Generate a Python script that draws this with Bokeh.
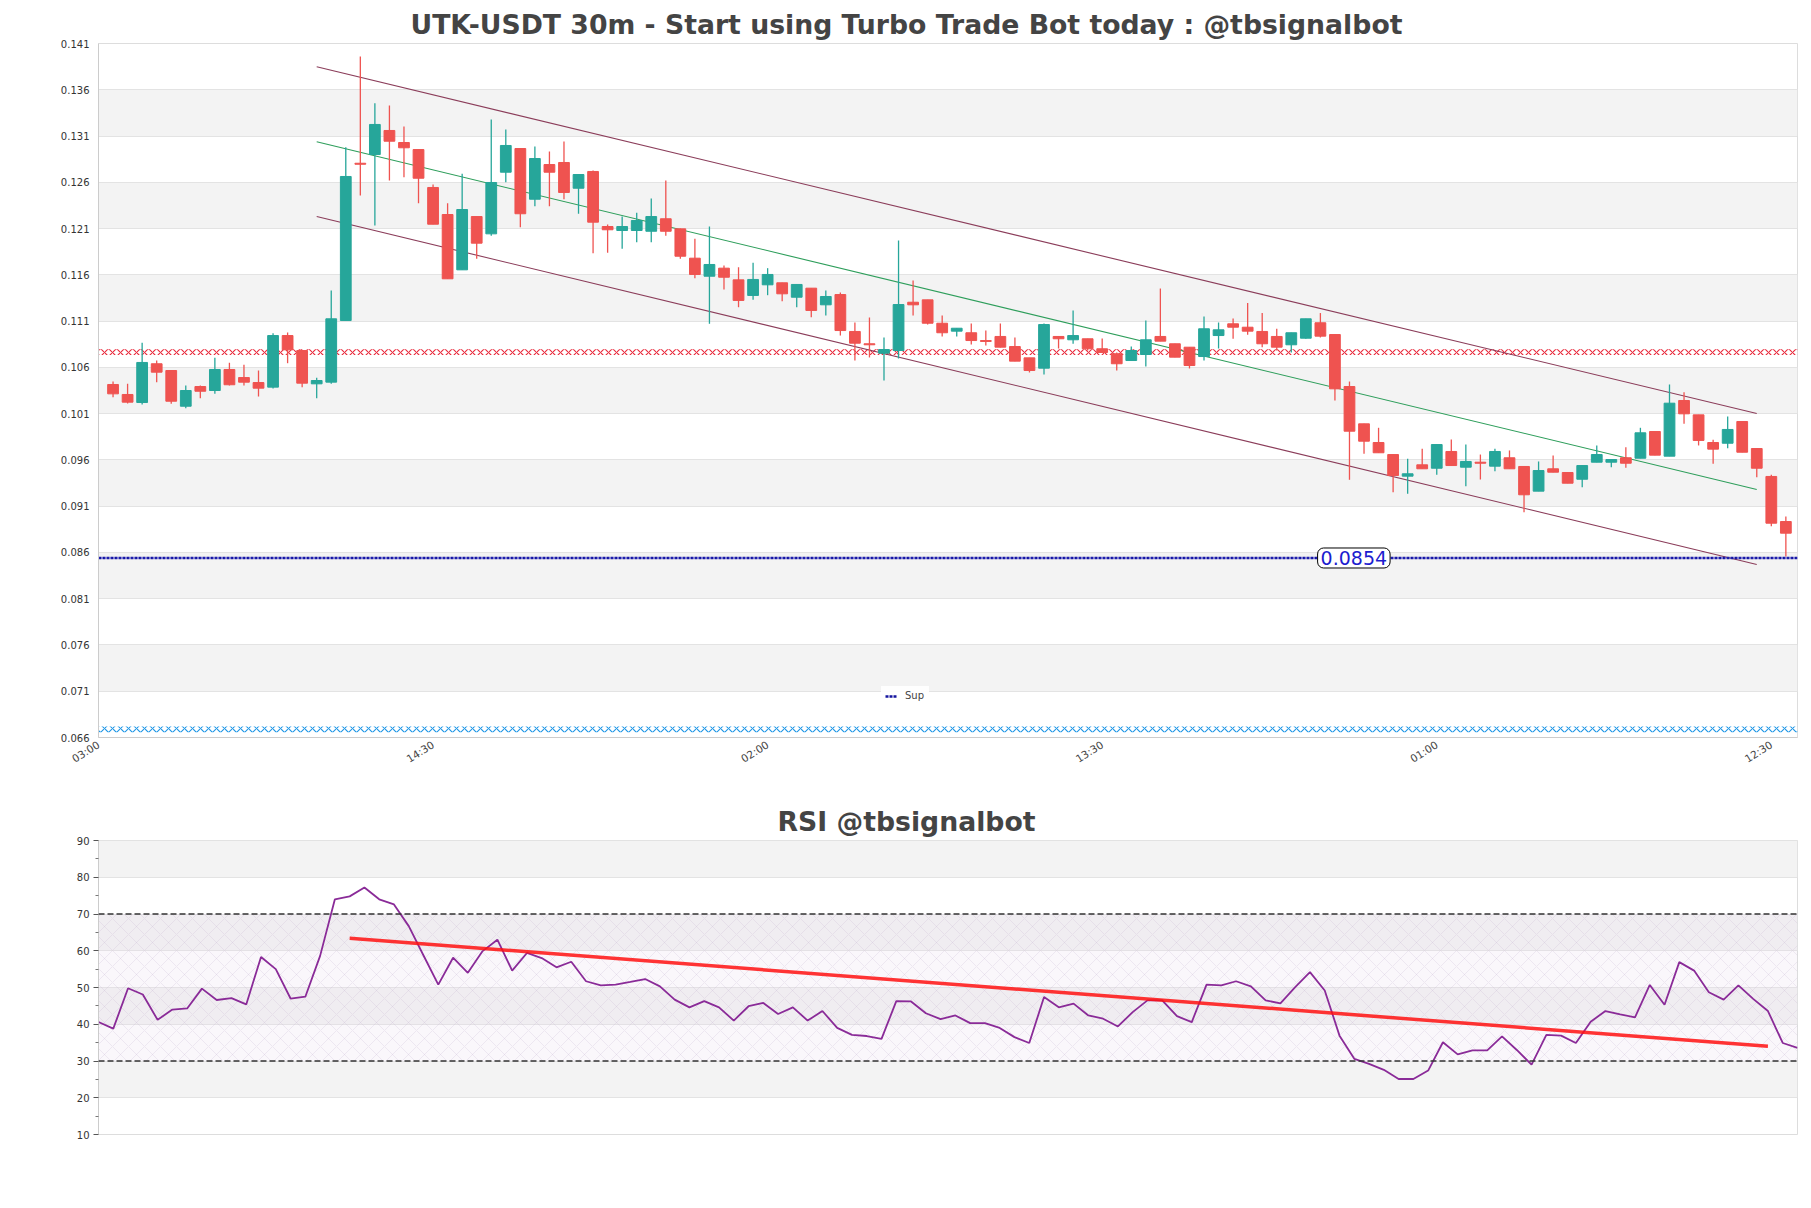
from bokeh.plotting import figure
from bokeh.models import (Range1d, FixedTicker, NumeralTickFormatter, Label, Legend,
                          LegendItem, ColumnDataSource, Span)
from bokeh.layouts import column
from bokeh.embed import file_html
from bokeh.resources import INLINE

# ---------------- data ----------------
opens = [0.10415, 0.10307, 0.10220, 0.10639, 0.10566, 0.10180, 0.10393, 0.10350, 0.10577, 0.10490,
         0.10436, 0.10386, 0.10944, 0.10782, 0.10422, 0.10440, 0.11106, 0.12806, 0.12900, 0.13160,
         0.13030, 0.12954, 0.12544, 0.12252, 0.11654, 0.12230, 0.12043, 0.12709, 0.12965, 0.12417,
         0.12792, 0.12814, 0.12536, 0.12717, 0.12122, 0.12079, 0.12079, 0.12071, 0.12206, 0.12097,
         0.11780, 0.11585, 0.11672, 0.11546, 0.11377, 0.11492, 0.11514, 0.11358, 0.11456, 0.11276,
         0.11387, 0.10988, 0.10855, 0.10753, 0.10782, 0.11304, 0.11330, 0.11077, 0.10991, 0.10974,
         0.10890, 0.10934, 0.10825, 0.10703, 0.10591, 0.10934, 0.10898, 0.10909, 0.10801, 0.10747,
         0.10674, 0.10739, 0.10934, 0.10855, 0.10818, 0.10717, 0.10944, 0.11071, 0.11034, 0.10988,
         0.10934, 0.10844, 0.10915, 0.11082, 0.10955, 0.10393, 0.09990, 0.09788, 0.09658, 0.09424,
         0.09547, 0.09510, 0.09691, 0.09521, 0.09575, 0.09532, 0.09623, 0.09529, 0.09262, 0.09504,
         0.09464, 0.09391, 0.09575, 0.09575, 0.09623, 0.09618, 0.09907, 0.09640, 0.10242, 0.10087,
         0.09788, 0.09780, 0.10015, 0.09723, 0.09421, 0.08934]
highs = [0.10447, 0.10422, 0.10866, 0.10674, 0.10570, 0.10404, 0.10404, 0.10703, 0.10649, 0.10628,
         0.10566, 0.10969, 0.10977, 0.10782, 0.10487, 0.11431, 0.12979, 0.13960, 0.13455, 0.13430,
         0.13203, 0.12954, 0.12576, 0.12374, 0.12692, 0.12230, 0.13279, 0.13171, 0.12965, 0.12987,
         0.12933, 0.13041, 0.12684, 0.12728, 0.12144, 0.12230, 0.12270, 0.12425, 0.12619, 0.12100,
         0.11989, 0.12122, 0.11701, 0.11682, 0.11730, 0.11672, 0.11514, 0.11496, 0.11456, 0.11431,
         0.11409, 0.11085, 0.11139, 0.10923, 0.11971, 0.11539, 0.11330, 0.11161, 0.11023, 0.11074,
         0.10998, 0.11074, 0.10923, 0.10703, 0.11074, 0.10934, 0.11215, 0.10909, 0.10912, 0.10761,
         0.10825, 0.11106, 0.11452, 0.10855, 0.10818, 0.11150, 0.11085, 0.11128, 0.11295, 0.11187,
         0.11017, 0.10974, 0.11125, 0.11187, 0.10955, 0.10447, 0.09990, 0.09947, 0.09658, 0.09612,
         0.09720, 0.09766, 0.09820, 0.09766, 0.09658, 0.09720, 0.09702, 0.09529, 0.09583, 0.09647,
         0.09464, 0.09539, 0.09756, 0.09604, 0.09737, 0.09947, 0.09907, 0.10415, 0.10332, 0.10087,
         0.09817, 0.10069, 0.10015, 0.09723, 0.09439, 0.08988]
lows = [0.10278, 0.10209, 0.10199, 0.10440, 0.10206, 0.10159, 0.10267, 0.10314, 0.10404, 0.10404,
        0.10285, 0.10372, 0.10645, 0.10386, 0.10267, 0.10422, 0.11106, 0.12457, 0.12133, 0.12619,
        0.12655, 0.12374, 0.12147, 0.11557, 0.11654, 0.11773, 0.12022, 0.12601, 0.12115, 0.12342,
        0.12342, 0.12417, 0.12260, 0.11834, 0.11838, 0.11881, 0.11953, 0.11953, 0.12022, 0.11773,
        0.11564, 0.11071, 0.11441, 0.11250, 0.11330, 0.11380, 0.11315, 0.11250, 0.11142, 0.11161,
        0.10944, 0.10674, 0.10707, 0.10458, 0.10696, 0.11161, 0.11063, 0.10934, 0.10934, 0.10847,
        0.10836, 0.10815, 0.10667, 0.10545, 0.10523, 0.10804, 0.10855, 0.10782, 0.10761, 0.10566,
        0.10674, 0.10609, 0.10883, 0.10710, 0.10588, 0.10674, 0.10804, 0.10909, 0.10952, 0.10818,
        0.10782, 0.10761, 0.10909, 0.10923, 0.10242, 0.09385, 0.09666, 0.09677, 0.09251, 0.09234,
        0.09504, 0.09439, 0.09539, 0.09316, 0.09388, 0.09478, 0.09504, 0.09035, 0.09262, 0.09467,
        0.09348, 0.09305, 0.09575, 0.09521, 0.09514, 0.09618, 0.09651, 0.09640, 0.09990, 0.09756,
        0.09558, 0.09726, 0.09683, 0.09413, 0.08884, 0.08556]
closes = [0.10314, 0.10224, 0.10653, 0.10548, 0.10234, 0.10350, 0.10342, 0.10577, 0.10412, 0.10440,
          0.10375, 0.10944, 0.10790, 0.10429, 0.10458, 0.11125, 0.12663, 0.12795, 0.13225, 0.13044,
          0.12973, 0.12644, 0.12147, 0.11557, 0.12306, 0.11942, 0.12598, 0.12998, 0.12260, 0.12857,
          0.12709, 0.12490, 0.12684, 0.12169, 0.12087, 0.12122, 0.12187, 0.12230, 0.12071, 0.11801,
          0.11604, 0.11712, 0.11574, 0.11323, 0.11550, 0.11604, 0.11395, 0.11496, 0.11215, 0.11366,
          0.10998, 0.10861, 0.10844, 0.10793, 0.11279, 0.11276, 0.11077, 0.10974, 0.11023, 0.10890,
          0.10880, 0.10818, 0.10667, 0.10566, 0.11063, 0.10909, 0.10944, 0.10801, 0.10761, 0.10639,
          0.10782, 0.10898, 0.10883, 0.10710, 0.10620, 0.11017, 0.11006, 0.11034, 0.10991, 0.10855,
          0.10818, 0.10974, 0.11125, 0.10937, 0.10368, 0.09910, 0.09802, 0.09677, 0.09431, 0.09450,
          0.09504, 0.09766, 0.09539, 0.09583, 0.09564, 0.09691, 0.09504, 0.09223, 0.09485, 0.09467,
          0.09348, 0.09539, 0.09658, 0.09604, 0.09564, 0.09893, 0.09651, 0.10213, 0.10098, 0.09810,
          0.09716, 0.09929, 0.09683, 0.09510, 0.08916, 0.08808]

tick_positions = [-1, 22, 45, 68, 91, 114]
tick_labels = ["03:00", "14:30", "02:00", "13:30", "01:00", "12:30"]
price_ticks = [0.066, 0.071, 0.076, 0.081, 0.086, 0.091, 0.096, 0.101, 0.106,
               0.111, 0.116, 0.121, 0.126, 0.131, 0.136, 0.141]

resistance_level = 0.10764
support_level = 0.0854
low_level = 0.06687

channel_x = [14, 113]
channel_upper = [0.13848, 0.10101]
channel_mid = [0.13038, 0.09280]
channel_lower = [0.12230, 0.08470]

rsi = [40.6, 38.8, 49.8, 48.1, 41.2, 44.0, 44.3, 49.7, 46.6, 47.1, 45.4, 58.3, 55.0, 47.0, 47.5,
       58.6, 74.0, 74.8, 77.2, 74.0, 72.6, 66.7, 58.7, 50.8, 58.1, 54.0, 59.9, 63.0, 54.6, 59.4,
       58.0, 55.5, 57.0, 51.7, 50.6, 50.8, 51.5, 52.3, 50.3, 46.7, 44.6, 46.3, 44.6, 41.0, 44.9,
       45.8, 42.8, 44.6, 41.0, 43.6, 39.0, 37.1, 36.8, 36.0, 46.3, 46.2, 43.0, 41.4, 42.4, 40.3,
       40.3, 39.0, 36.5, 34.9, 47.4, 44.6, 45.6, 42.4, 41.5, 39.4, 43.3, 46.5, 46.5, 42.2, 40.6,
       50.8, 50.6, 51.7, 50.3, 46.5, 45.7, 50.1, 54.2, 49.2, 36.9, 30.6, 29.2, 27.6, 25.1, 25.1,
       27.4, 35.1, 31.8, 32.9, 32.9, 36.7, 33.0, 29.0, 37.1, 36.9, 34.9, 40.7, 43.6, 42.7, 41.9,
       50.7, 45.3, 56.9, 54.6, 48.7, 46.7, 50.6, 46.9, 43.6, 34.9, 33.6]
rsi_ticks = [10, 20, 30, 40, 50, 60, 70, 80, 90]
rsi_minor = [15, 25, 35, 45, 55, 65, 75, 85]
rsi_trend_x = [17, 113]
rsi_trend_y = [63.4, 34.0]
rsi_levels = [30, 70]

# ---------------- styles ----------------
UP, DOWN = "#26a69a", "#ef5350"
FONT = "DejaVu Sans"
X0, X1 = -1, 115.8

n = len(opens)
xs = list(range(n))
src = ColumnDataSource(dict(
    x=xs, high=highs, low=lows,
    top=[max(o, c) for o, c in zip(opens, closes)],
    bottom=[min(o, c) for o, c in zip(opens, closes)],
    color=[UP if c >= o else DOWN for o, c in zip(opens, closes)],
))

p = figure(width=1811, height=790, x_range=Range1d(X0, X1), y_range=Range1d(0.066, 0.141),
           output_backend="svg", toolbar_location=None,
           min_border_left=98, min_border_right=14, min_border_top=43, min_border_bottom=53)
p.title.text = "UTK-USDT 30m - Start using Turbo Trade Bot today : @tbsignalbot"
p.title.align = "left"
p.title.offset = 312
p.title.text_font = FONT
p.title.text_font_size = "26.7px"
p.title.text_font_style = "bold"
p.title.text_color = "#444444"
p.title.standoff = 8

p.outline_line_color = "#dddddd"
p.xgrid.visible = False
yt = FixedTicker(ticks=price_ticks)
p.yaxis.ticker = yt
p.ygrid.ticker = yt
p.ygrid.grid_line_color = "#e3e3e3"
p.ygrid.band_fill_color = "#f3f3f3"
p.ygrid.band_fill_alpha = 1.0
p.yaxis.formatter = NumeralTickFormatter(format="0.000")
p.yaxis.axis_line_color = "#cccccc"
p.yaxis.major_tick_line_color = None
p.yaxis.minor_tick_line_color = None
p.yaxis.major_tick_out = 5
p.yaxis.major_label_standoff = 4
p.yaxis.major_label_text_font = FONT
p.yaxis.major_label_text_font_size = "10px"
p.yaxis.major_label_text_color = "#333333"

p.xaxis.ticker = FixedTicker(ticks=tick_positions)
p.xaxis.major_label_overrides = {t: l for t, l in zip(tick_positions, tick_labels)}
p.xaxis.major_label_orientation = 0.56
p.xaxis.axis_line_color = "#cccccc"
p.xaxis.major_tick_line_color = None
p.xaxis.minor_tick_line_color = None
p.xaxis.major_tick_out = 2
p.xaxis.major_label_standoff = 4
p.xaxis.major_label_text_font = FONT
p.xaxis.major_label_text_font_size = "10.5px"
p.xaxis.major_label_text_color = "#444444"

# chain lines (hatched thin bands)
for lvl, col in [(resistance_level, "#e8283a"), (low_level, "#1e96e6")]:
    p.hbar(y=[lvl], height=0.00062, left=X0, right=X1, fill_alpha=0, line_color=None,
           hatch_pattern="x", hatch_color=col, hatch_scale=8, hatch_weight=1.1)

# channel lines
p.line(channel_x, channel_upper, line_color="#8b3d5a", line_width=1.1)
p.line(channel_x, channel_lower, line_color="#8b3d5a", line_width=1.1)
p.line(channel_x, channel_mid, line_color="#2e9e5b", line_width=1.1)

# candles
p.segment(x0="x", y0="low", x1="x", y1="high", line_color="color", line_width=1.3, source=src)
p.vbar(x="x", width=0.74, top="top", bottom="bottom", fill_color="color", line_color="color",
       line_width=1, source=src)

# support line
sup_line = p.line([X0, X1], [support_level, support_level], line_color="#14149e", line_width=2.5,
                  line_dash="3 1")
p.line([X0, X1], [support_level, support_level], line_color="#5050ff", line_width=1.0,
       line_dash="1 2", line_alpha=0.7)
legend = Legend(items=[LegendItem(label="Sup", renderers=[sup_line])], location=(783, 32))
legend.glyph_width = 12
legend.glyph_height = 10
legend.label_text_font = FONT
legend.label_text_font_size = "10px"
legend.label_standoff = 8
legend.padding = 4
legend.margin = 0
legend.border_line_alpha = 0
legend.background_fill_alpha = 0.9
p.add_layout(legend)

lab = Label(x=85.3, y=support_level, text=f"{support_level:.4f}", text_align="center",
            text_baseline="middle", text_font=FONT, text_font_size="19px", text_color="#1c1ccf",
            background_fill_color="white", border_line_color="black", border_line_width=1,
            padding=3, border_radius=6)
p.add_layout(lab)

# ---------------- RSI ----------------
p2 = figure(width=1811, height=374, x_range=Range1d(0, len(rsi) - 1), y_range=Range1d(10, 90),
            output_backend="svg", toolbar_location=None,
            min_border_left=98, min_border_right=14, min_border_top=50, min_border_bottom=30)
p2.title.text = "RSI @tbsignalbot"
p2.title.align = "left"
p2.title.offset = 679
p2.title.text_font = FONT
p2.title.text_font_size = "26.7px"
p2.title.text_font_style = "bold"
p2.title.text_color = "#444444"
p2.title.standoff = 7
p2.outline_line_color = "#dddddd"
p2.xaxis.visible = False
p2.xgrid.visible = False
rt = FixedTicker(ticks=rsi_ticks, minor_ticks=rsi_minor)
p2.yaxis.ticker = rt
p2.ygrid.ticker = rt
p2.ygrid.grid_line_color = "#e3e3e3"
p2.ygrid.band_fill_color = "#f3f3f3"
p2.ygrid.band_fill_alpha = 1.0
p2.yaxis.axis_line_color = "#cccccc"
p2.yaxis.major_tick_line_color = "#555555"
p2.yaxis.minor_tick_line_color = "#777777"
p2.yaxis.major_tick_out = 5
p2.yaxis.major_tick_in = 0
p2.yaxis.minor_tick_out = 3
p2.yaxis.minor_tick_in = 0
p2.yaxis.major_label_standoff = 4
p2.yaxis.major_label_text_font = FONT
p2.yaxis.major_label_text_font_size = "10px"
p2.yaxis.major_label_text_color = "#333333"

p2.varea(x=[0, len(rsi) - 1], y1=[rsi_levels[0]] * 2, y2=[rsi_levels[1]] * 2,
         fill_color="#e6dcef", fill_alpha=0.22, hatch_pattern="x", hatch_color="#c2b2d2",
         hatch_alpha=0.4, hatch_scale=16, hatch_weight=0.6)
for lv in rsi_levels:
    p2.add_layout(Span(location=lv, dimension="width", line_color="#333333",
                       line_dash="6 3", line_width=1.3))
p2.line(list(range(len(rsi))), rsi, line_color="#8a2b98", line_width=1.8)
p2.line(rsi_trend_x, rsi_trend_y, line_color="#ff1111", line_width=3.5, line_alpha=0.85)

layout = column(p, p2)
open("out.html", "w").write(file_html(layout, INLINE))
